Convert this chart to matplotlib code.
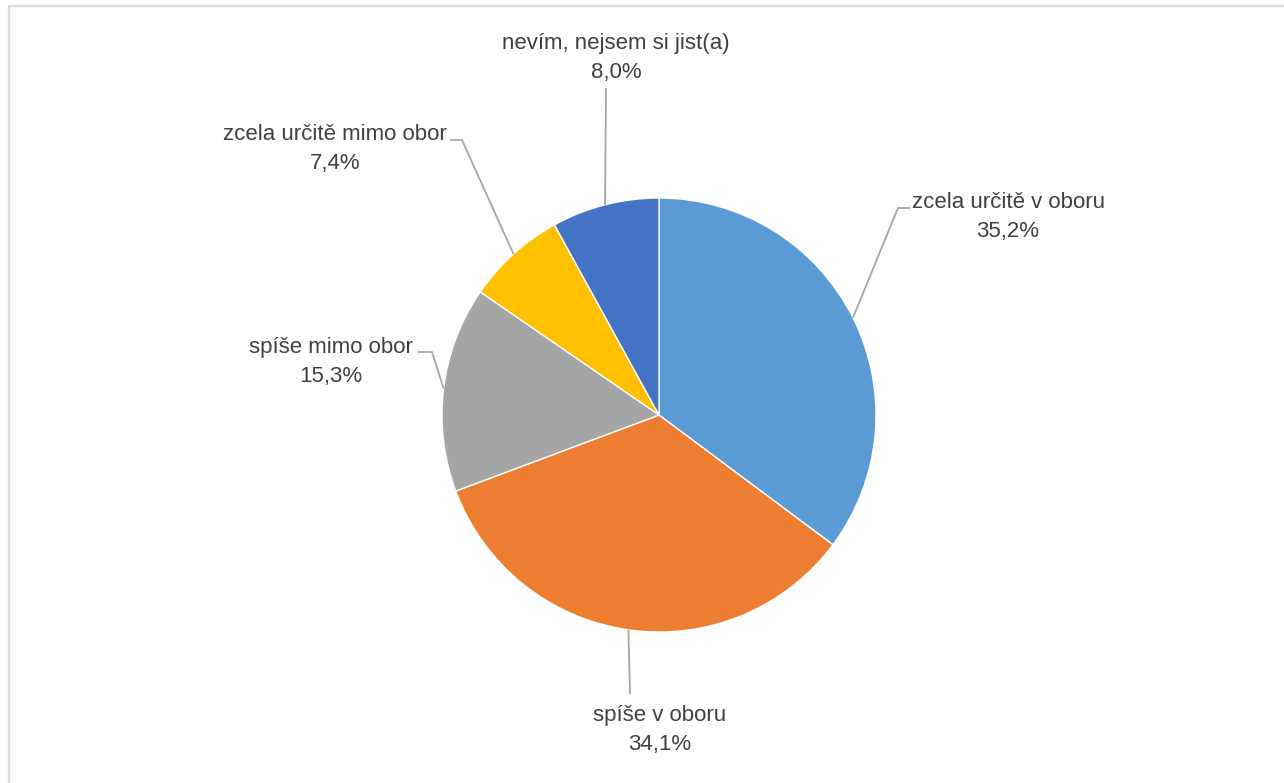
import numpy as np
import matplotlib
matplotlib.use("Agg")
import matplotlib.pyplot as plt
from matplotlib.patches import Rectangle

W, H = 1284, 783

categories = [
    "zcela určitě v oboru",
    "spíše v oboru",
    "spíše mimo obor",
    "zcela určitě mimo obor",
    "nevím, nejsem si jist(a)",
]
shares = [35.2, 34.1, 15.3, 7.4, 8.0]
colors = ["#5B9BD5", "#ED7D31", "#A5A5A5", "#FFC000", "#4472C4"]

# label block centre (px, top-left origin) and leader elbow points
label_pos = [(1008, 217), (660, 730), (331, 362), (335, 149), (616, 58)]
leader_elbow = [
    [(898, 208), (910, 208)],
    [(630, 694)],
    [(432, 352), (418, 352)],
    [(462, 140), (450, 140)],
    [(606, 88)],
]

CX, CY, R = 659, 415, 217


def fy(y):
    return H - y


plt.rcParams["font.family"] = ["Liberation Sans", "DejaVu Sans"]

fig = plt.figure(figsize=(W / 100, H / 100), dpi=100)
ax = fig.add_axes([0, 0, 1, 1])

# chart-area border (partly cut off on right/bottom)
ax.add_patch(Rectangle((8.5, -20), W + 40, fy(5.5) + 20, fill=False,
                       edgecolor="#D9D9D9", linewidth=1.6))

wedges, _ = ax.pie(
    shares, colors=colors, startangle=90, counterclock=False,
    center=(CX, fy(CY)), radius=R, frame=True,
    wedgeprops=dict(edgecolor="white", linewidth=1.0),
)
ax.set_xlim(0, W)
ax.set_ylim(0, H)
ax.set_aspect("equal")
ax.axis("off")

total = sum(shares)
cum = np.cumsum([0] + shares[:-1])
for i, (cat, val) in enumerate(zip(categories, shares)):
    mid = (cum[i] + val / 2) / total * 2 * np.pi
    ex = CX + R * np.sin(mid)
    ey = CY - R * np.cos(mid)
    pts = [(ex, ey)] + leader_elbow[i]
    ax.plot([p[0] for p in pts], [fy(p[1]) for p in pts],
            color="#A6A6A6", linewidth=1.3, solid_capstyle="butt")
    lx, ly = label_pos[i]
    ax.text(lx, fy(ly), f"{cat}\n{val:.1f}%".replace(".", ","),
            ha="center", va="center", fontsize=16, color="#404040",
            linespacing=1.45)

fig.savefig("out.png", dpi=100)
